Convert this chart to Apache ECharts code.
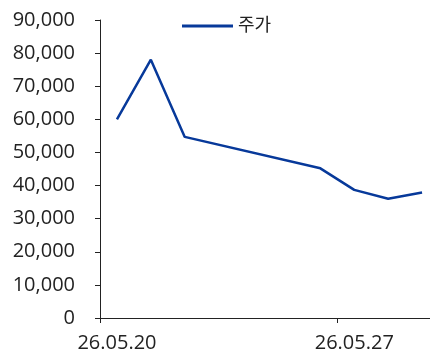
<!DOCTYPE html>
<html><head><meta charset="utf-8">
<script src="https://cdn.jsdelivr.net/npm/echarts@6/dist/echarts.min.js"></script>
<style>html,body{margin:0;padding:0;background:#fff}#c{width:430px;height:354px}</style>
</head><body><div id="c"></div>
<script>
const categories = ['26.05.20','26.05.21','26.05.22','26.05.23','26.05.24','26.05.25','26.05.26','26.05.27','26.05.28','26.05.29'];
const priceValues = [60000, 78000, 54700, null, null, null, 45200, 38700, 36000, 37900];
const seriesName = '주가';
const yTicks = {min: 0, max: 90000, interval: 10000};
const font = '"Open Sans", "Noto Sans CJK KR", sans-serif';
const chart = echarts.init(document.getElementById('c'));
chart.setOption({
  animation: false,
  textStyle: {fontFamily: font},
  grid: {left: 100, width: 339, top: 20, height: 298, outerBoundsMode: 'none', containLabel: false},
  legend: {
    left: 177, top: 12, itemWidth: 51, itemHeight: 3, itemGap: 10,
    textStyle: {fontSize: 18, color: '#222', fontFamily: font},
    data: [{name: seriesName, icon: 'rect'}]
  },
  xAxis: {
    type: 'category', data: categories, boundaryGap: true,
    axisLine: {lineStyle: {color: '#222', width: 1}},
    axisTick: {show: true, interval: 6, length: 5, lineStyle: {color: '#222'}},
    axisLabel: {interval: 6, fontSize: 20, color: '#222', margin: 15, fontFamily: font}
  },
  yAxis: {
    type: 'value', min: yTicks.min, max: yTicks.max, interval: yTicks.interval,
    axisLine: {show: true, lineStyle: {color: '#222', width: 1}},
    axisTick: {show: true, length: 5, lineStyle: {color: '#222'}},
    splitLine: {show: false},
    axisLabel: {fontSize: 20, color: '#222', margin: 25, fontFamily: font,
      formatter: v => v.toLocaleString('en-US')}
  },
  series: [{
    name: seriesName, type: 'line', data: priceValues, connectNulls: true,
    symbol: 'none', lineStyle: {color: '#07399A', width: 2.5}, itemStyle: {color: '#07399A'}
  }]
});
</script></body></html>
